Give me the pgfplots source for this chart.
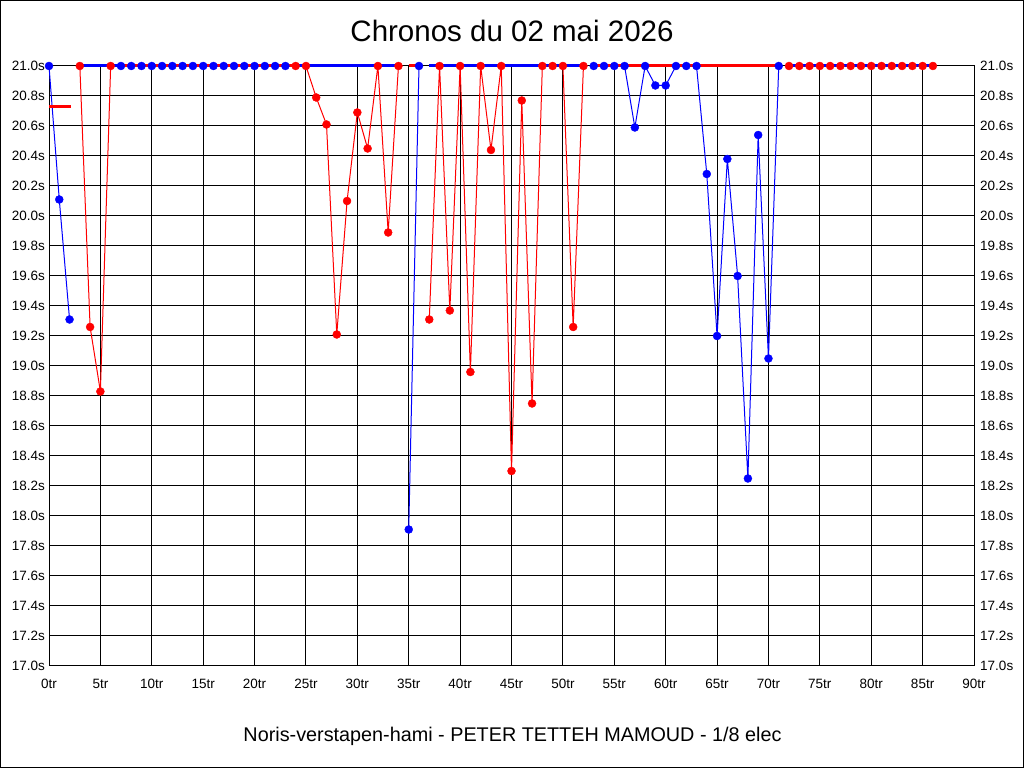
\documentclass[border=0pt]{standalone}
\usepackage{fontspec}
\setmainfont{Liberation Sans}
\usepackage{pgfplots}
\pgfplotsset{compat=1.18}
\begin{document}
\begin{tikzpicture}[x=1bp,y=1bp]
\useasboundingbox (0,0) rectangle (1024,768);
\draw[black, line width=1bp] (0.5,0.5) rectangle (1023.5,767.5);
\pgfplotsset{
  base/.style={
    at={(49bp,102bp)}, anchor=south west, scale only axis,
    width=925bp, height=600bp,
    xmin=0, xmax=90, ymin=17, ymax=21,
    xtick={0,5,...,90},
    ytick={17,17.2,17.4,17.6,17.8,18,18.2,18.4,18.6,18.8,19,19.2,19.4,19.6,19.8,20,20.2,20.4,20.6,20.8,21},
    major tick length=0pt,
    /pgf/number format/assume math mode=true,
    ticklabel style={font=\fontsize{13.5bp}{15bp}\selectfont, inner sep=0pt},
    yticklabel={\pgfmathprintnumber[fixed,fixed zerofill,precision=1]{\tick}s},
  },
  thin/.style={line width=1bp, line join=round, mark=*, mark size=4bp, mark options={solid, line width=0.4bp}},
  fat/.style={line width=3bp, no marks},
}
\begin{axis}[base,
  grid=major, major grid style={black, line width=1bp},
  axis line style={black, line width=1bp},
  xticklabel={\pgfmathprintnumber{\tick}tr},
  xticklabel style={anchor=north, yshift=-13bp},
  yticklabel style={anchor=east, xshift=-4bp},
  clip=false,
]
% active laps (thin lines with dots)
\addplot[blue, thin] coordinates {(0,21)(1,20.11)(2,19.31)};
\addplot[red, thin] coordinates {(3,21)(4,19.26)(5,18.83)(6,21)};
\addplot[blue, thin] coordinates {(7,21)(8,21)(9,21)(10,21)(11,21)(12,21)(13,21)(14,21)(15,21)(16,21)(17,21)(18,21)(19,21)(20,21)(21,21)(22,21)(23,21)};
\addplot[red, thin] coordinates {(24,21)(25,21)(26,20.79)(27,20.61)(28,19.21)(29,20.10)(30,20.69)(31,20.45)(32,21)(33,19.89)(34,21)};
\addplot[blue, thin] coordinates {(35,17.91)(36,21)};
\addplot[red, thin] coordinates {(37,19.31)(38,21)(39,19.37)(40,21)(41,18.96)(42,21)(43,20.44)(44,21)(45,18.30)(46,20.77)(47,18.75)(48,21)(49,21)(50,21)(51,19.26)(52,21)};
\addplot[blue, thin] coordinates {(53,21)(54,21)(55,21)(56,21)(57,20.59)(58,21)(59,20.87)(60,20.87)(61,21)(62,21)(63,21)(64,20.28)(65,19.20)(66,20.38)(67,19.60)(68,18.25)(69,20.54)(70,19.05)(71,21)};
\addplot[red, thin] coordinates {(72,21)(73,21)(74,21)(75,21)(76,21)(77,21)(78,21)(79,21)(80,21)(81,21)(82,21)(83,21)(84,21)(85,21)(86,21)};
% inactive (clipped) laps at the top
\addplot[blue, fat] coordinates {(3,21)(7,21)};
\addplot[red, fat] coordinates {(7,21)(24,21)};
\addplot[blue, fat] coordinates {(24,21)(34,21)};
\addplot[red, fat] coordinates {(35,21)(36,21)};
\addplot[blue, fat] coordinates {(37,21)(52,21)};
\addplot[red, fat] coordinates {(53,21)(71,21)};
\addplot[blue, fat] coordinates {(72,21)(86,21)};
\addplot[red, fat] coordinates {(0,20.727)(2.1,20.727)};
\end{axis}
\begin{axis}[base,
  axis x line=none, axis y line*=right,
  axis line style={black, line width=1bp},
  yticklabel pos=right,
  yticklabel style={anchor=west, xshift=6bp},
]
\end{axis}
\node[anchor=base, font=\fontsize{29.5bp}{31bp}\selectfont] at (512,726) {Chronos du 02 mai 2026};
\node[anchor=base, font=\fontsize{19.8bp}{22bp}\selectfont] at (512.5,26) {Noris-verstapen-hami - PETER TETTEH MAMOUD - 1/8 elec};
\end{tikzpicture}
\end{document}
